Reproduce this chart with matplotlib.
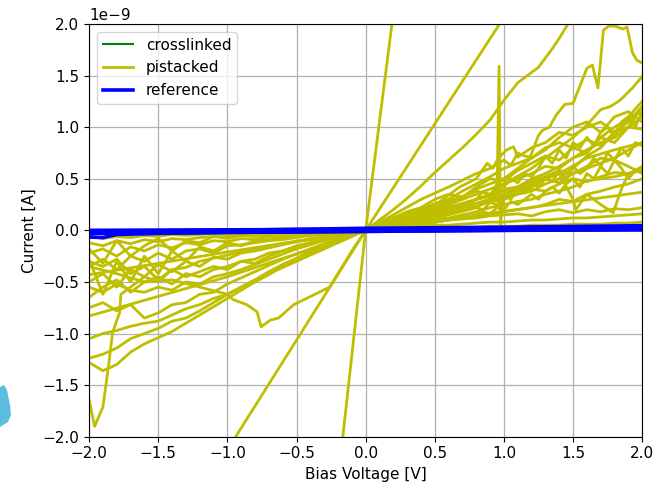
#!/usr/bin/env python3
# -*- coding: utf-8 -*-
"""
IV curves: crosslinked / pistacked / reference
"""

import matplotlib
matplotlib.use("Agg")
import matplotlib.pyplot as plt
from matplotlib.patches import Polygon
from matplotlib.lines import Line2D

plt.rcParams['font.size'] = 11

# --- data (currents in nA, scaled to A when drawn) ---
NEG_V = [-2.0, -1.9, -1.8, -1.7, -1.6, -1.5, -1.4, -1.3, -1.2, -1.1, -1.0,
         -0.9, -0.8, -0.7, -0.6, -0.5, -0.4, -0.3, -0.2, -0.1, 0.0]
POS_V = [0.0, 0.1, 0.2, 0.3, 0.4, 0.5, 0.6, 0.7, 0.8, 0.9, 1.0,
         1.1, 1.2, 1.3, 1.4, 1.5, 1.6, 1.7, 1.8, 1.9, 2.0]
# finer sweep used by the noisier positive branches
POS_V_FINE = [0.0, 0.3, 0.6, 0.8, 0.85, 0.9, 0.95, 1.0, 1.05, 1.1, 1.15, 1.2, 1.25, 1.3,
              1.35, 1.4, 1.45, 1.5, 1.55, 1.6, 1.65, 1.7, 1.75, 1.8, 1.85, 1.9, 1.95, 2.0]

# pistacked, negative branch on the NEG_V grid
neg_grid_curves = [
    [-1.28, -1.36, -1.30, -1.18, -1.10, -1.04, -0.98, -0.90, -0.82, -0.74, -0.66,
     -0.58, -0.50, -0.43, -0.35, -0.29, -0.22, -0.16, -0.10, -0.05, 0.0],
    [-1.24, -1.20, -1.14, -1.05, -1.00, -0.95, -0.88, -0.85, -0.78, -0.70, -0.62,
     -0.55, -0.48, -0.40, -0.33, -0.27, -0.20, -0.15, -0.09, -0.04, 0.0],
    [-1.05, -1.00, -0.97, -0.93, -0.90, -0.88, -0.82, -0.76, -0.72, -0.66, -0.62,
     -0.55, -0.48, -0.42, -0.36, -0.30, -0.24, -0.18, -0.12, -0.06, 0.0],
    [-0.05, -0.08, -0.06, -0.07, -0.05, -0.06, -0.04, -0.05, -0.04, -0.03, -0.03,
     -0.03, -0.02, -0.02, -0.02, -0.01, -0.01, -0.01, 0.0, 0.0, 0.0],
    [-0.12, -0.15, -0.10, -0.13, -0.09, -0.11, -0.08, -0.09, -0.07, -0.06, -0.06,
     -0.05, -0.05, -0.04, -0.03, -0.03, -0.02, -0.02, -0.01, -0.01, 0.0],
    [-0.22, -0.18, -0.25, -0.16, -0.20, -0.14, -0.17, -0.12, -0.14, -0.10, -0.11,
     -0.08, -0.09, -0.06, -0.06, -0.05, -0.04, -0.03, -0.02, -0.01, 0.0],
    [-0.35, -0.28, -0.38, -0.25, -0.30, -0.22, -0.28, -0.20, -0.18, -0.22, -0.15,
     -0.14, -0.12, -0.10, -0.09, -0.07, -0.05, -0.04, -0.03, -0.01, 0.0],
    [-0.50, -0.42, -0.55, -0.38, -0.45, -0.33, -0.40, -0.30, -0.35, -0.26, -0.28,
     -0.22, -0.20, -0.17, -0.14, -0.11, -0.08, -0.06, -0.04, -0.02, 0.0],
    [-0.65, -0.55, -0.48, -0.60, -0.50, -0.45, -0.52, -0.42, -0.45, -0.38, -0.35,
     -0.30, -0.32, -0.25, -0.20, -0.16, -0.12, -0.09, -0.06, -0.03, 0.0],
    [-0.28, -0.62, -0.30, -0.50, -0.25, -0.42, -0.20, -0.30, -0.16, -0.20, -0.12,
     -0.15, -0.10, -0.09, -0.07, -0.06, -0.04, -0.03, -0.02, -0.01, 0.0],
    [-0.18, -0.32, -0.10, -0.25, -0.15, -0.08, -0.20, -0.10, -0.12, -0.06, -0.08,
     -0.05, -0.06, -0.04, -0.03, -0.03, -0.02, -0.01, -0.01, 0.0, 0.0],
    [-0.55, -0.60, -0.52, -0.58, -0.60, -0.55, -0.58, -0.50, -0.52, -0.45, -0.42,
     -0.38, -0.33, -0.28, -0.23, -0.18, -0.14, -0.10, -0.06, -0.03, 0.0],
    [-0.75, -0.70, -0.78, -0.72, -0.85, -0.80, -0.72, -0.70, -0.62, -0.60, -0.52,
     -0.46, -0.40, -0.34, -0.28, -0.23, -0.18, -0.13, -0.08, -0.04, 0.0],
    [-0.30, -0.35, -0.28, -0.42, -0.35, -0.48, -0.38, -0.45, -0.40, -0.35, -0.38,
     -0.30, -0.28, -0.22, -0.20, -0.15, -0.12, -0.08, -0.05, -0.02, 0.0],
]

# pistacked, positive branch on the POS_V grid
pos_grid_curves = [
    [0.0, 0.01, 0.01, 0.02, 0.02, 0.02, 0.03, 0.03, 0.03, 0.04, 0.04,
     0.04, 0.05, 0.05, 0.05, 0.06, 0.06, 0.06, 0.07, 0.07, 0.08],
    [0.0, 0.01, 0.02, 0.03, 0.04, 0.05, 0.05, 0.06, 0.07, 0.08, 0.08,
     0.09, 0.10, 0.10, 0.11, 0.12, 0.12, 0.13, 0.14, 0.15, 0.16],
    [0.0, 0.02, 0.04, 0.05, 0.07, 0.08, 0.10, 0.11, 0.12, 0.14, 0.15,
     0.16, 0.14, 0.18, 0.20, 0.17, 0.20, 0.18, 0.21, 0.20, 0.22],
    [0.0, 0.03, 0.06, 0.09, 0.12, 0.16, 0.19, 0.22, 0.26, 0.30, 0.33,
     0.36, 0.40, 0.38, 0.45, 0.50, 0.47, 0.52, 0.56, 0.55, 0.60],
    [0.0, 0.04, 0.08, 0.12, 0.16, 0.20, 0.24, 0.22, 0.30, 0.34, 0.30,
     0.38, 0.42, 0.50, 0.46, 0.55, 0.60, 0.65, 0.70, 0.78, 0.85],
    [0.0, 0.05, 0.10, 0.15, 0.20, 0.25, 0.28, 0.33, 0.38, 0.35, 0.45,
     0.50, 0.55, 0.62, 0.60, 0.70, 0.78, 0.85, 0.90, 1.00, 1.10],
    [0.0, 0.06, 0.12, 0.18, 0.22, 0.30, 0.35, 0.32, 0.42, 0.50, 0.48,
     0.58, 0.65, 0.72, 0.68, 0.80, 0.88, 0.82, 0.95, 1.05, 1.20],
    [0.0, 0.05, 0.12, 0.16, 0.20, 0.26, 0.30, 0.38, 0.45, 0.52, 0.60,
     0.65, 0.70, 0.80, 0.85, 0.80, 0.75, 0.90, 1.00, 1.08, 1.15],
    [0.0, 0.03, 0.07, 0.10, 0.14, 0.18, 0.22, 0.26, 0.30, 0.35, 0.38,
     0.42, 0.48, 0.52, 0.58, 0.55, 0.62, 0.70, 0.68, 0.62, 0.55],
    [0.0, 0.04, 0.09, 0.13, 0.18, 0.22, 0.27, 0.32, 0.40, 0.45, 0.50,
     0.60, 0.70, 0.78, 0.90, 1.00, 1.05, 0.95, 1.10, 1.15, 1.05],
    [0.0, 0.02, 0.04, 0.06, 0.08, 0.10, 0.12, 0.15, 0.18, 0.22, 0.25,
     0.28, 0.30, 0.35, 0.38, 0.42, 0.48, 0.50, 0.52, 0.55, 0.58],
    [0.0, 0.03, 0.05, 0.08, 0.12, 0.15, 0.20, 0.24, 0.30, 0.33, 0.40,
     0.42, 0.50, 0.55, 0.62, 0.70, 0.75, 0.90, 0.85, 1.00, 0.98],
    [0.0, 0.02, 0.05, 0.07, 0.10, 0.13, 0.16, 0.20, 0.23, 0.28, 0.30,
     0.35, 0.38, 0.45, 0.50, 0.60, 0.72, 0.80, 0.95, 1.10, 1.25],
    [0.0, 0.02, 0.03, 0.05, 0.06, 0.08, 0.10, 0.12, 0.14, 0.15, 0.18,
     0.20, 0.22, 0.25, 0.30, 0.28, 0.35, 0.38, 0.42, 0.45, 0.50],
]

# pistacked, noisier positive branches on POS_V_FINE
pos_fine_curves = [
    [0.0, 0.10, 0.22, 0.30, 0.38, 0.33, 0.45, 0.42, 0.50, 0.46, 0.55, 0.52, 0.60, 0.72,
     0.65, 0.78, 0.70, 0.85, 0.80, 0.90, 0.82, 0.95, 1.00, 0.90, 1.05, 1.10, 1.00, 1.15],
    [0.0, 0.06, 0.15, 0.22, 0.20, 0.27, 0.25, 0.35, 0.30, 0.40, 0.36, 0.45, 0.42, 0.50,
     0.47, 0.58, 0.50, 0.62, 0.55, 0.60, 0.70, 0.62, 0.75, 0.68, 0.80, 0.72, 0.85, 0.82],
    [0.0, 0.04, 0.10, 0.15, 0.18, 0.16, 0.22, 0.20, 0.28, 0.25, 0.30, 0.35, 0.30, 0.38,
     0.42, 0.36, 0.45, 0.50, 0.42, 0.55, 0.50, 0.62, 0.55, 0.68, 0.60, 0.50, 0.58, 0.62],
]

# pistacked sweeps with their own voltage points
free_curves = [
    # steep one
    ([-0.25, 0.0, 0.25], [-3.03, 0.0, 2.63]),
    # straight, ~2 nA/V
    ([-1.1, 0.0, 1.1], [-2.34, 0.0, 2.27]),
    # rising to the top near 1.5 V
    ([0.0, 0.1, 0.2, 0.3, 0.4, 0.5, 0.6, 0.7, 0.8, 0.9, 1.0, 1.1, 1.2, 1.25, 1.3, 1.35, 1.4, 1.45, 1.5],
     [0.0, 0.1, 0.2, 0.31, 0.43, 0.56, 0.68, 0.80, 0.93, 1.07, 1.26, 1.43, 1.53, 1.58, 1.67, 1.76, 1.86, 1.97, 2.08]),
    # peaked one near 1.8 V
    ([0.0, 0.2, 0.4, 0.6, 0.8, 0.9, 1.0, 1.05, 1.1, 1.15, 1.19, 1.25, 1.28, 1.33, 1.35, 1.38, 1.44, 1.5,
      1.6, 1.64, 1.68, 1.72, 1.76, 1.8, 1.86, 1.89, 1.93, 1.96, 2.0],
     [0.0, 0.15, 0.3, 0.42, 0.55, 0.6, 0.68, 0.63, 0.75, 0.72, 0.71, 0.92, 0.97, 1.0, 1.05, 1.12, 1.22, 1.23,
      1.57, 1.60, 1.38, 1.94, 1.98, 1.98, 1.95, 1.97, 1.72, 1.65, 1.62]),
    # smooth one ending near 1.5
    ([0.0, 0.5, 1.0, 1.2, 1.4, 1.5, 1.6, 1.7, 1.77, 1.84, 1.93, 2.0],
     [0.0, 0.2, 0.45, 0.6, 0.8, 0.9, 1.02, 1.17, 1.2, 1.26, 1.38, 1.49]),
    # straight to 0.37
    ([0.0, 2.0], [0.0, 0.37]),
    # with the spike at ~0.97 V
    ([0.0, 0.2, 0.4, 0.6, 0.8, 0.9, 0.95, 0.965, 0.975, 1.0, 1.2, 1.4, 1.6, 1.8, 2.0],
     [0.0, 0.05, 0.1, 0.16, 0.22, 0.3, 0.32, 1.59, 0.05, 0.35, 0.45, 0.55, 0.7, 0.78, 0.85]),
    # bump around 1 V
    ([0.0, 0.32, 0.49, 0.68, 0.8, 0.88, 0.92, 0.96, 1.02, 1.07, 1.1, 1.2, 1.3, 1.4, 1.5, 1.6, 1.7, 1.8, 1.9, 2.0],
     [0.0, 0.17, 0.23, 0.42, 0.5, 0.65, 0.6, 0.7, 0.78, 0.81, 0.71, 0.8, 0.85, 0.95, 0.92, 1.0, 1.05, 0.95, 1.0, 1.2]),
    # looping one
    ([0.0, 0.3, 0.6, 0.9, 1.2, 1.4, 1.5, 1.52, 1.6, 1.7, 1.79, 1.85, 1.9, 2.0],
     [0.0, 0.08, 0.18, 0.3, 0.45, 0.55, 0.3, 0.2, 0.35, 0.25, 0.17, 0.4, 0.55, 0.6]),
    # deep dip at -1.96 V
    ([-2.0, -1.96, -1.9, -1.86, -1.83, -1.78, -1.77, -1.7, -1.6, -1.5, -1.4, -1.3, -1.2, -1.0, -0.8, -0.6, -0.4, -0.2, 0.0],
     [-1.64, -1.9, -1.71, -1.32, -0.99, -0.8, -0.62, -0.55, -0.45, -0.5, -0.38, -0.36, -0.3, -0.24, -0.18, -0.13, -0.09, -0.04, 0.0]),
    # straight-ish to -0.83
    ([-2.0, -1.0, -0.26, 0.0], [-0.83, -0.45, -0.12, 0.0]),
    # straight to -0.43
    ([-2.0, -1.0, 0.0], [-0.43, -0.21, 0.0]),
    # kink near -0.76 V
    ([-2.0, -1.8, -1.6, -1.4, -1.2, -1.0, -0.96, -0.86, -0.785, -0.756, -0.69, -0.63, -0.52, -0.26, -0.1, 0.0],
     [-0.35, -0.42, -0.5, -0.48, -0.55, -0.62, -0.67, -0.72, -0.79, -0.935, -0.87, -0.85, -0.72, -0.55, -0.2, 0.0]),
]

# crosslinked (hidden under the reference band)
cross_v = [-2.0, 0.0, 2.0]
cross_i = [[-0.02, -0.005, 0.0], [-0.01, 0.0, 0.01]]

# reference
ref_v = [-2.0, -1.0, 0.0, 1.0, 2.0]
ref_i = [
    [-0.02, -0.01, 0.0, 0.01, 0.02],
    [0.0, 0.005, 0.01, 0.02, 0.035],
    [-0.03, -0.02, -0.01, 0.0, 0.01],
    [-0.01, 0.0, 0.02, 0.03, 0.045],
]
ref_dip_v = [-2.0, -1.9, -1.8, -1.5, -1.0, 0.0, 1.0, 2.0]
ref_dip_i = [-0.065, -0.07, -0.04, -0.03, -0.02, -0.01, 0.0, 0.005]

NA = 1e-9
C_PI = 'y'
C_CROSS = 'g'
C_REF = 'b'
LW_PI = 2.0
LW_REF = 2.6

fig = plt.figure(figsize=(6.6, 4.88), dpi=100)
ax = fig.add_axes([0.135, 0.105, 0.838, 0.846])

for ys in neg_grid_curves:
    ax.plot(NEG_V, [v * NA for v in ys], color=C_PI, lw=LW_PI)
for ys in pos_grid_curves:
    ax.plot(POS_V, [v * NA for v in ys], color=C_PI, lw=LW_PI)
for ys in pos_fine_curves:
    ax.plot(POS_V_FINE, [v * NA for v in ys], color=C_PI, lw=LW_PI)
for xs, ys in free_curves:
    ax.plot(xs, [v * NA for v in ys], color=C_PI, lw=LW_PI)

for ys in cross_i:
    ax.plot(cross_v, [v * NA for v in ys], color=C_CROSS, lw=1.5)

for ys in ref_i:
    ax.plot(ref_v, [v * NA for v in ys], color=C_REF, lw=LW_REF)
ax.plot(ref_dip_v, [v * NA for v in ref_dip_i], color=C_REF, lw=LW_REF)

ax.set_xlim(-2, 2)
ax.set_ylim(-2e-9, 2e-9)
ax.grid(True, color='#b0b0b0', lw=0.9)
ax.set_xlabel("Bias Voltage [V]")
ax.set_ylabel("Current [A]")

handles = [Line2D([], [], color=C_CROSS, lw=1.5),
           Line2D([], [], color=C_PI, lw=LW_PI),
           Line2D([], [], color=C_REF, lw=LW_REF)]
ax.legend(handles, ["crosslinked", "pistacked", "reference"], loc='upper left')

# bit of a neighbouring image cut off on the left edge
W, H = 660.0, 488.0
blob_px = [(0, 387), (4, 385), (7, 390), (10, 405), (11, 415), (8, 422), (3, 425), (0, 427)]
fig.patches.append(Polygon([(x / W, 1 - y / H) for x, y in blob_px], closed=True,
                           transform=fig.transFigure, facecolor='#5bbddf', edgecolor='none'))

fig.savefig("out.png", dpi=100)
